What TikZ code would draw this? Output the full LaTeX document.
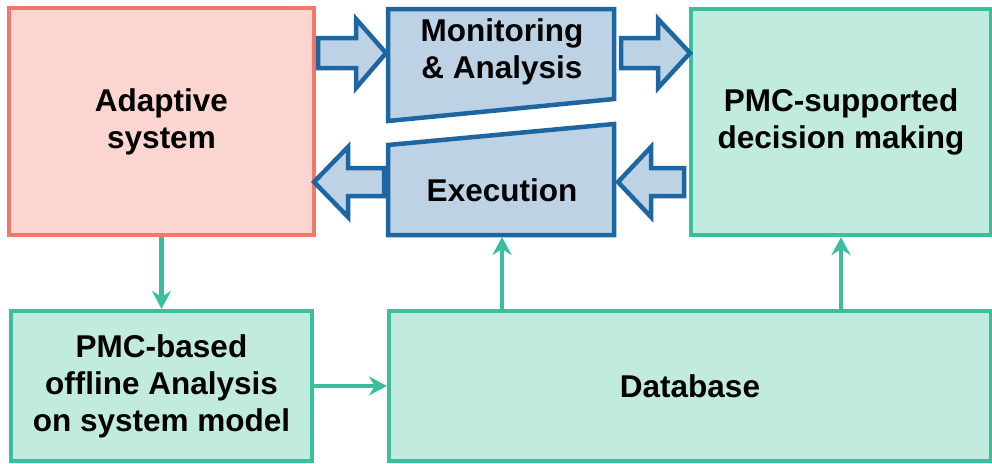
\documentclass[tikz,border=0pt]{standalone}
\usepackage{fontspec}
\setmainfont{Liberation Sans}
\usetikzlibrary{arrows.meta}

\definecolor{sysline}{RGB}{242,120,106}
\definecolor{sysfill}{RGB}{251,213,207}
\definecolor{mapeline}{RGB}{30,102,162}
\definecolor{mapefill}{RGB}{189,211,229}
\definecolor{pmcline}{RGB}{58,190,158}
\definecolor{pmcfill}{RGB}{194,235,224}

\tikzset{
  label text/.style={font=\fontsize{31.5}{37}\selectfont\bfseries, align=center, text=black},
  box/.style={rectangle, line width=4.2pt, inner sep=0pt, label text},
  sysbox/.style={box, draw=sysline, fill=sysfill},
  pmcbox/.style={box, draw=pmcline, fill=pmcfill},
  mapeshape/.style={draw=mapeline, fill=mapefill, line width=4.5pt, line join=miter},
  flow/.style={draw=pmcline, line width=4.2pt,
    -{Stealth[length=18pt, width=19pt, inset=6pt]}},
}

\begin{document}
\begin{tikzpicture}[x=1pt, y=-1pt]
\useasboundingbox (0,0) rectangle (992,463);

% main blocks
\node[sysbox, minimum width=305pt, minimum height=227pt] (adaptive) at (161.5,121.5)
  {Adaptive\\system};
\node[pmcbox, minimum width=300pt, minimum height=226pt] (decision) at (841,122)
  {PMC-supported\\decision making};
\node[pmcbox, minimum width=301pt, minimum height=150pt] (offline) at (161.5,386)
  {PMC-based\\offline Analysis\\on system model};
\node[pmcbox, minimum width=602pt, minimum height=150pt] (database) at (690,386)
  {Database};

% monitoring and execution stages (slanted boxes)
\draw[mapeshape] (388,9) -- (614,9) -- (614,99) -- (388,121) -- cycle;
\node[label text] (monitor) at (502,52) {Monitoring\\\& Analysis};
\draw[mapeshape] (388,145) -- (614,124) -- (614,235) -- (388,235) -- cycle;
\node[label text] (execution) at (502,190) {Execution};
\coordinate (execbottom) at (502,237);

% block arrows of the feedback loop
\draw[mapeshape] (318,38) -- (356,38) -- (356,19) -- (386,53) -- (356,88) -- (356,68) -- (318,68) -- cycle;
\draw[mapeshape] (621,38) -- (658,38) -- (658,19) -- (690,53) -- (658,88) -- (658,68) -- (621,68) -- cycle;
\draw[mapeshape] (684,168) -- (651,168) -- (651,147) -- (618,182) -- (651,217) -- (651,196) -- (684,196) -- cycle;
\draw[mapeshape] (384,168) -- (348,168) -- (348,147) -- (314,182) -- (348,217) -- (348,196) -- (384,196) -- cycle;

% data flow connectors
\draw[flow] (adaptive.south) -- (offline.north);
\draw[flow] (offline.east) -- (database.west);
\draw[flow] (database.north -| execbottom) -- (execbottom);
\draw[flow] (database.north -| decision.south) -- (decision.south);
\end{tikzpicture}
\end{document}
